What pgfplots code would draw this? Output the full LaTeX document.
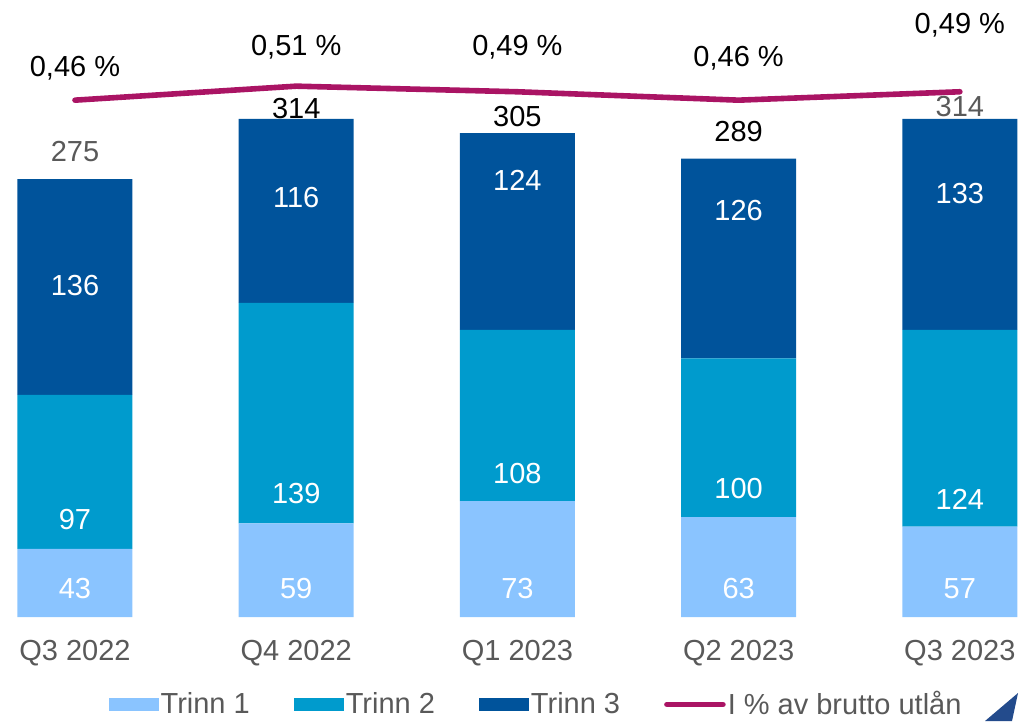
\documentclass[border=0pt]{standalone}
\usepackage{fontspec}
\setmainfont{Liberation Sans}
\usepackage{pgfplots}
\pgfplotsset{compat=1.18}
\usetikzlibrary{calc}
\definecolor{trinnA}{RGB}{138,196,255}
\definecolor{trinnB}{RGB}{0,155,205}
\definecolor{trinnC}{RGB}{0,83,155}
\definecolor{lineC}{RGB}{170,20,100}
\definecolor{txtgrey}{RGB}{89,89,89}
\definecolor{logoC}{RGB}{35,75,140}

\begin{document}
\begin{tikzpicture}[font=\fontsize{14.5}{17}\selectfont]
\pgfplotsset{
  base/.style={
    width=511pt, height=303.5pt, scale only axis,
    at={(0,0)}, anchor=south west,
    xmin=-0.339, xmax=4.281,
    axis line style={draw=none},
    major tick length=0pt,
    ytick=\empty,
    clip=false,
  },
  lbl/.style={draw=none, mark=none, forget plot,
    nodes near coords, point meta=explicit symbolic,
    nodes near coords style={anchor=center, text=#1}},
}

% bars
\begin{axis}[base, name=ax,
  ymin=0, ymax=382.7,
  ybar stacked, bar width=57.5pt,
  xtick={0,1,2,3,4},
  xticklabels={Q3 2022, Q4 2022, Q1 2023, Q2 2023, Q3 2023},
  xticklabel style={text=txtgrey, yshift=-8pt},
  legend columns=4,
  legend style={draw=none, fill=none,
    at={(axis description cs:0.5245,-0.144)}, anchor=center,
    text=txtgrey,
    nodes={inner xsep=1pt, anchor=west},
    /tikz/every even column/.append style={column sep=21pt},
    /tikz/every odd column/.append style={column sep=0pt}},
]
\addplot[fill=trinnA, draw=none,
  legend image code/.code={\fill[trinnA] (0pt,-3.25pt) rectangle (25pt,3.25pt);}]
  coordinates {(0,43) (1,59) (2,73) (3,63) (4,57)};
\addlegendentry{Trinn 1}
\addplot[fill=trinnB, draw=none,
  legend image code/.code={\fill[trinnB] (0pt,-3.25pt) rectangle (25pt,3.25pt);}]
  coordinates {(0,97) (1,139) (2,108) (3,100) (4,124)};
\addlegendentry{Trinn 2}
\addplot[fill=trinnC, draw=none,
  legend image code/.code={\fill[trinnC] (0pt,-3.25pt) rectangle (25pt,3.25pt);}]
  coordinates {(0,136) (1,116) (2,124) (3,126) (4,133)};
\addlegendentry{Trinn 3}
\addlegendimage{legend image code/.code={\draw[lineC, line width=2.8pt, line cap=round] (0pt,0pt) -- (28pt,0pt);}}
\addlegendentry{I \% av brutto utlån}
\end{axis}

% share of gross lending
\begin{axis}[base, ymin=-1.386, ymax=0.782, xtick=\empty]
\addplot[lineC, line width=2.8pt, line cap=round, mark=none]
  coordinates {(0,0.46) (1,0.51) (2,0.49) (3,0.46) (4,0.49)};
\end{axis}

% value labels
\begin{axis}[base, ymin=0, ymax=382.7, xtick=\empty]
\addplot[lbl=white] coordinates {(0,17.7)[43] (1,17.7)[59] (2,17.7)[73] (3,17.7)[63] (4,17.7)[57]};
\addplot[lbl=white] coordinates {(0,61.2)[97] (1,77.6)[139] (2,90.2)[108] (3,80.7)[100] (4,74.4)[124]};
\addplot[lbl=white] coordinates {(0,209.3)[136] (1,264.2)[116] (2,275.5)[124] (3,256.0)[126] (4,267.3)[133]};
\addplot[lbl=txtgrey] coordinates {(0,293.2)[275] (4,321.6)[314]};
\addplot[lbl=black] coordinates {(1,320.9)[314] (2,315.3)[305] (3,306.4)[289]};
\addplot[lbl=black] coordinates {(0,346.2)[{0,46 \%}] (1,359.4)[{0,51 \%}] (2,359.4)[{0,49 \%}] (3,352.4)[{0,46 \%}] (4,373.2)[{0,49 \%}]};
\end{axis}

% logo corner
\fill[logoC] ($(ax.south west)+(492.5pt,-52pt)$) -- ($(ax.south west)+(509pt,-38pt)$) -- ($(ax.south west)+(506pt,-52pt)$) -- cycle;

\pgfresetboundingbox
\path[use as bounding box] ($(ax.south west)+(0,-52pt)$) rectangle ($(ax.north east)+(0,5pt)$);
\end{tikzpicture}
\end{document}
